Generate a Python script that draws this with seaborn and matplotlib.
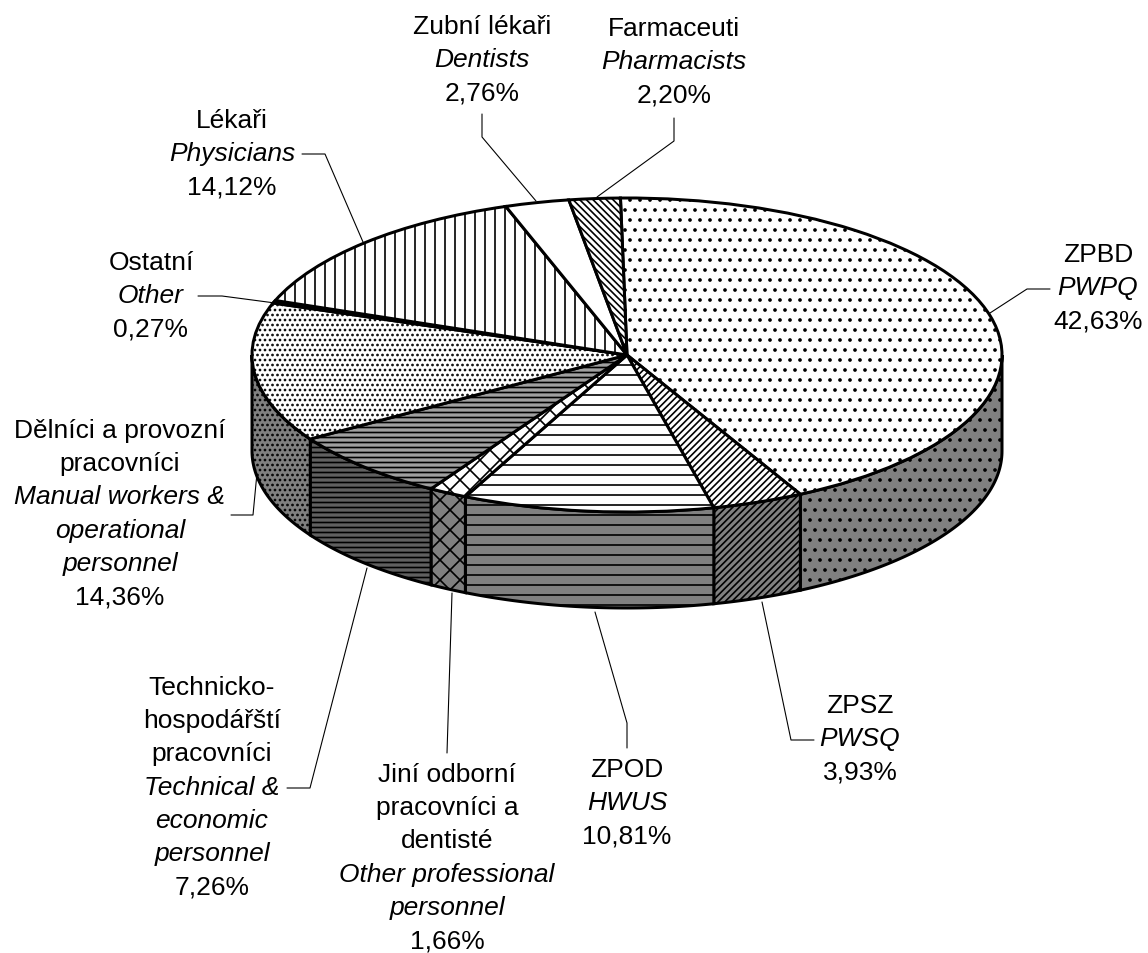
import numpy as np
import matplotlib
matplotlib.use("Agg")
import matplotlib.pyplot as plt
import seaborn as sns

# values clockwise from the top
cz_labels = [["ZPBD"], ["ZPSZ"], ["ZPOD"], ["Jiní odborní", "pracovníci a", "dentisté"],
             ["Technicko-", "hospodářští", "pracovníci"], ["Dělníci a provozní", "pracovníci"],
             ["Ostatní"], ["Lékaři"], ["Zubní lékaři"], ["Farmaceuti"]]
en_labels = [["PWPQ"], ["PWSQ"], ["HWUS"], ["Other professional", "personnel"],
             ["Technical &", "economic", "personnel"], ["Manual workers &", "operational", "personnel"],
             ["Other"], ["Physicians"], ["Dentists"], ["Pharmacists"]]
shares = [42.63, 3.93, 10.81, 1.66, 7.26, 14.36, 0.27, 14.12, 2.76, 2.20]

hatches = [".", "///", "-", "x", "--", "..", "", "|", "", "\\\\\\"]
top_colors = ["white", "white", "white", "white", "#a0a0a0", "white", "black", "white", "white", "white"]
side_colors = ["#808080", "#808080", "#808080", "#808080", "#606060", "#808080", "black", "#808080", "#808080", "#808080"]

label_x = [1098, 860, 627, 447, 212, 120, 151, 232, 482, 674]
label_y = [255, 706, 770, 775, 688, 431, 263, 121, 27, 29]
leaders = [[(1050, 289), (1027, 289), (990, 313)],
           [(814, 740), (791, 740), (762, 602)],
           [(627, 748), (627, 723), (595, 612)],
           [(447, 753), (452, 593)],
           [(287, 788), (310, 788), (367, 568)],
           [(231, 515), (253, 515), (257, 473)],
           [(198, 296), (222, 296), (275, 303)],
           [(302, 154), (325, 154), (363, 242)],
           [(482, 114), (482, 137), (536, 201)],
           [(674, 118), (674, 141), (597, 197)]]

W, H = 1148, 953
CX, CY, RX, RY, DEPTH = 627, 355, 375, 157, 96
LINE_H = 33.2

sns.set_theme(style="white")
plt.rcParams["font.family"] = ["Liberation Sans", "DejaVu Sans"]
plt.rcParams["hatch.linewidth"] = 2.0

# hatch tile follows dpi, so a low dpi gives the tighter stripes
DPI = 60
fig = plt.figure(figsize=(W / DPI, H / DPI), dpi=DPI)
ax = fig.add_axes([0, 0, 1, 1])
PT = 72 / DPI


def px(x, y):
    return (x - CX) / RX, (CY - y) / RY


start = 91
wedges, _ = ax.pie(shares, startangle=start, counterclock=False, radius=1,
                   wedgeprops=dict(edgecolor="black", linewidth=3 * PT, zorder=3))
ax.set_aspect("auto")
ax.set_xlim(-CX / RX, (W - CX) / RX)
ax.set_ylim((CY - H) / RY, CY / RY)
ax.axis("off")

# side wall of the disc
edges = start - np.cumsum([0] + shares) * 3.6
drop = DEPTH / RY
for i in range(len(shares)):
    wedges[i].set_facecolor(top_colors[i])
    wedges[i].set_hatch(hatches[i])
    hi, lo = edges[i], edges[i + 1]
    # lower half only: math angles from -180 to 0
    hi2, lo2 = min(hi, 0), max(lo, -180)
    if hi2 <= lo2:
        continue
    t = np.radians(np.linspace(hi2, lo2, 80))
    xs = np.r_[np.cos(t), np.cos(t[::-1])]
    ys = np.r_[np.sin(t), np.sin(t[::-1]) - drop]
    ax.fill(xs, ys, facecolor=side_colors[i], edgecolor="black", hatch=hatches[i],
            linewidth=3 * PT, zorder=2)

# labels and leader lines
for i in range(len(shares)):
    pct = f"{shares[i]:.2f}".replace(".", ",") + "%"
    rows = [(s, "normal") for s in cz_labels[i]] + [(s, "italic") for s in en_labels[i]] + [(pct, "normal")]
    for j, (s, style) in enumerate(rows):
        x, y = px(label_x[i], label_y[i] + j * LINE_H)
        ax.text(x, y, s, ha="center", va="center", style=style, fontsize=26.4 * PT, color="black")
    lx, ly = zip(*[px(a, b) for a, b in leaders[i]])
    ax.plot(lx, ly, color="black", linewidth=1.1 * PT, zorder=1)

fig.savefig("out.png", dpi=DPI, facecolor="white")
